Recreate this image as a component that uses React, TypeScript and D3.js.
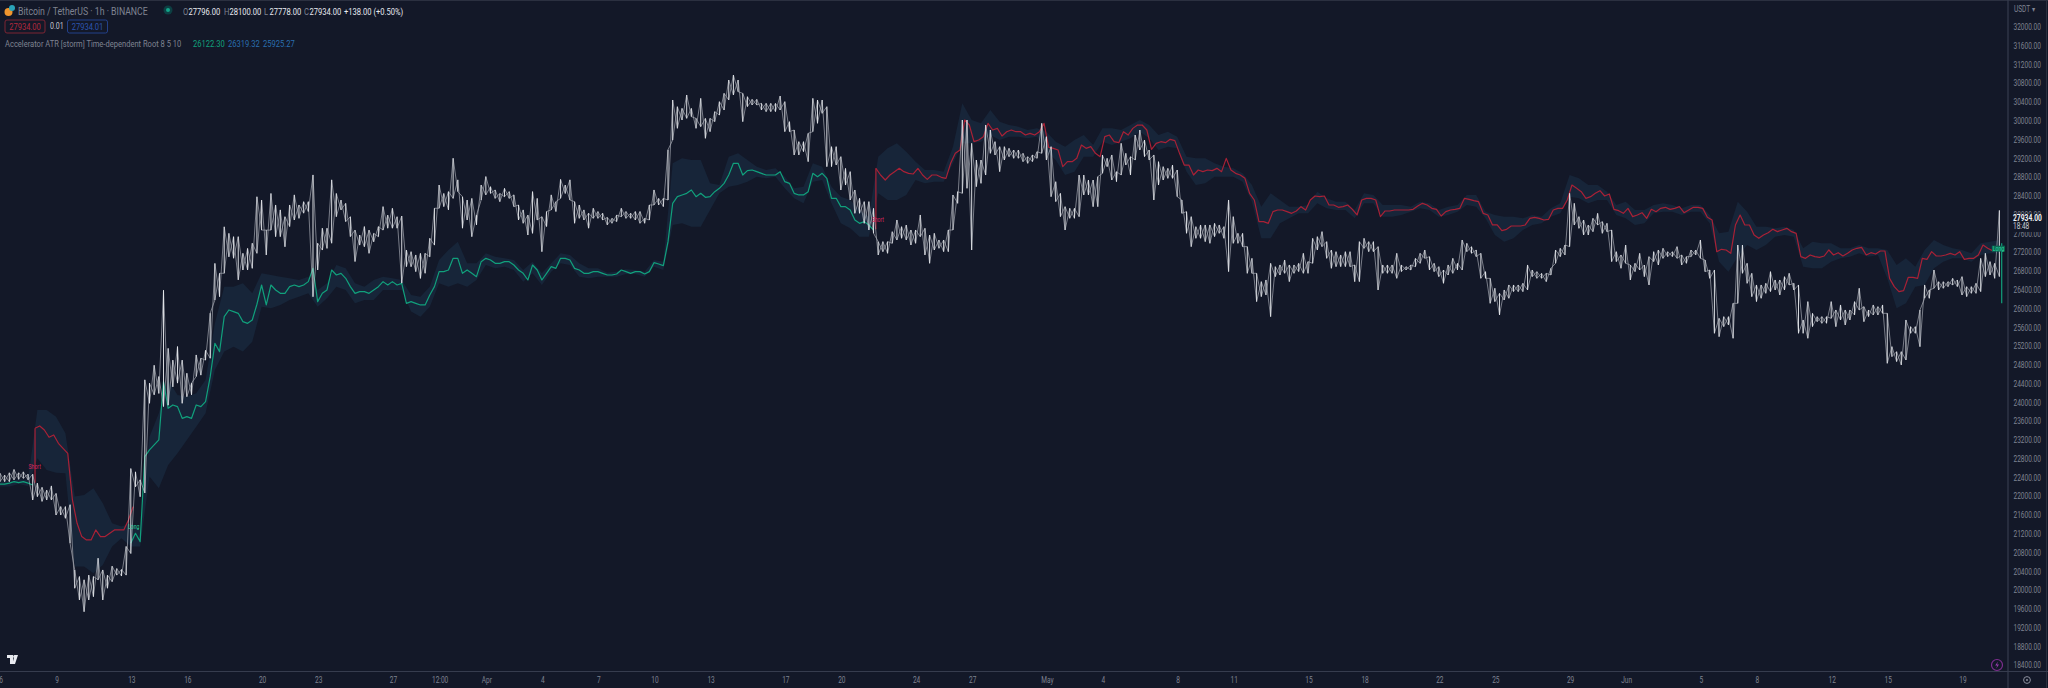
import React from 'react';
import * as d3 from 'd3';

const WIDTH = 2048;
const HEIGHT = 688;
const PLOT_RIGHT = 2008;
const AXIS_Y = 671.5;
const SQUEEZE = 0.78;

const BG = '#131828';
const BAND = '#172539';
const LONG = '#11a07c';
const SHORT = '#a92136';
const LABEL = '#7f8391';

// 6h bars, first one at 6 Mar 00:00
const START = Date.UTC(2023, 2, 6);
const HOUR = 3600 * 1000;

const highs = [
  22500,22460,22510,22580,22510,22530,22480,22480,22290,22200,
  22140,22230,22070,21790,21790,21830,20440,20300,20230,20330,
  20300,20690,20440,20330,20520,20470,20450,20940,22600,22530,
  22360,24490,24420,24800,24560,26400,25160,24910,25200,24910,
  24630,24420,25020,24950,25120,25910,26970,26760,27750,27610,
  27540,27540,27185,27290,27400,28390,28320,27680,28460,28215,
  28110,27965,28215,28430,28215,28285,28285,28855,27400,27720,
  27720,28750,28460,28320,28250,27965,27680,27575,27755,27680,
  27610,27755,28180,28000,28145,27965,27980,27255,27220,27150,
  27185,27185,27505,28145,28640,28460,28500,29210,28750,28390,
  28320,28355,28000,28640,28820,28605,28535,28460,28570,28500,
  28430,28215,28110,28000,28500,28355,27965,28075,28430,28285,
  28760,28640,28750,28285,28215,28110,28040,28145,28075,28040,
  27950,27930,28000,28145,28075,28040,28075,28075,27930,28215,
  28535,28355,28355,29390,30451,30309,30273,30558,30273,30060,
  30486,30060,30060,30203,30416,30593,30877,30983,30877,30593,
  30522,30465,30465,30380,30380,30380,30380,30536,30416,29990,
  29812,29564,29564,29741,30486,30451,30451,30309,29457,29457,
  29244,28995,28925,28534,28357,28286,28286,28144,27434,27434,
  27434,27646,27895,27753,27788,27682,27682,28002,27718,27575,
  27611,27469,27469,27682,28428,28499,30025,30025,29528,29173,
  29173,29919,29812,29564,29457,29457,29422,29386,29386,29315,
  29244,29280,29350,29954,29670,29457,28711,28463,28179,28144,
  28144,28853,28853,28747,28747,28818,29280,29209,29280,28925,
  29528,29315,29244,29705,29812,29599,29386,29280,29138,29031,
  28995,29066,28960,28321,28073,27966,27753,27789,27789,27789,
  27824,27789,27753,28321,27966,27611,27611,27327,27078,26759,
  26582,26617,26972,26901,26937,27043,26937,26937,26972,27185,
  27008,27504,27540,27647,27434,27256,27220,27150,27220,27220,
  26937,27434,27504,27434,27434,27327,26937,26937,26937,27185,
  26937,26901,26937,27078,27185,27256,27114,26972,26901,26830,
  26937,27078,26972,27469,27398,27327,27256,27185,26795,26652,
  26440,26333,26404,26511,26511,26511,26546,26937,26830,26795,
  26759,26759,26866,27256,27292,27362,28463,28250,27966,27895,
  27788,27930,28037,27860,27824,27682,27220,27150,27362,26936,
  26972,27185,26936,27114,27220,27256,27292,27220,27220,27327,
  27150,27114,27256,27256,27469,27043,26830,26830,25800,25836,
  25836,26120,27362,27362,26972,26759,26511,26511,26546,26795,
  26617,26617,26688,26759,26546,26511,25765,26156,25907,25836,
  25836,25836,26156,25978,26085,25978,25978,26156,26440,26049,
  25978,26085,26049,26085,25907,25197,25090,25090,25765,25623,
  25623,25978,26511,26404,26830,26581,26581,26581,26652,26617,
  26688,26475,26475,26546,27078,27185,27008,26972,28100,
];

const lows = [
  22320,22320,22320,22360,22370,22390,22360,21930,22000,21900,
  21930,21930,21610,21610,21540,21010,20050,19800,19550,19800,
  19870,20230,19800,20050,20190,20330,20310,20330,20790,22210,
  22000,22080,23990,24170,24200,23920,23950,24340,24420,23990,
  24130,24170,24560,24590,24910,24950,26190,26260,26760,27110,
  27080,26620,26830,26830,26865,27185,27680,27150,27680,27540,
  27540,27325,27755,27895,27930,28040,28075,26260,26830,27255,
  27290,27400,27965,28110,27860,27540,27010,27360,27325,27185,
  27430,27540,27680,27720,27720,27720,26550,26900,26900,26795,
  26650,26760,27110,27360,28145,28180,28110,28355,28500,27720,
  27895,27540,27790,28320,28430,28460,28355,28285,28390,28355,
  28180,27895,27825,27575,27610,27895,27220,27755,28110,28075,
  28355,28460,28320,27825,27930,27895,27720,27930,27930,27895,
  27790,27825,27860,27965,27930,27930,27895,27825,27825,27895,
  28215,28215,28180,28320,29599,29848,30025,30060,30096,29848,
  29883,29635,29777,29990,30131,30238,30451,30558,30628,29990,
  30309,30345,30345,30238,30203,30203,30203,30238,29777,29777,
  29280,29280,29350,29138,29777,29954,30167,29031,29031,29067,
  28534,28640,28321,28037,28037,27824,27682,27611,27150,27220,
  27185,27398,27469,27505,27469,27362,27398,27540,27150,26972,
  27256,27292,27220,27220,27682,28250,28463,28570,27256,28605,
  28676,28853,29315,29280,28925,29173,29244,29209,29209,29138,
  29102,29138,29209,29315,29173,28392,28286,27966,27682,27931,
  27931,27966,28428,28428,28179,28179,28889,29031,28747,28711,
  28853,29067,28853,29173,29386,29244,29173,28321,28640,28747,
  28782,28782,28392,28037,27611,27327,27505,27505,27434,27398,
  27540,27611,27505,26795,27398,27398,27327,26759,26759,26156,
  26262,26298,25836,26688,26723,26759,26582,26759,26795,26759,
  26759,26972,27256,27327,27078,26865,26901,26901,26901,26901,
  26582,26582,27291,27220,27220,26404,26759,26759,26759,26652,
  26795,26830,26830,26901,26972,27078,26830,26795,26688,26546,
  26723,26759,26830,26830,27220,27185,27114,26652,26652,26120,
  26156,25872,26191,26227,26369,26369,26369,26404,26688,26652,
  26652,26582,26724,26972,27114,27150,27327,27788,27717,27575,
  27575,27646,27788,27611,27646,27008,27008,26866,26972,26617,
  26795,26830,26688,26511,27008,26936,27078,27114,27114,27078,
  26936,26972,27114,27150,27078,26795,26652,25481,25410,25623,
  25659,25375,26120,26759,26546,26262,26156,26227,26333,26369,
  26404,26298,26404,26511,26404,25481,25481,25375,25623,25729,
  25694,25694,25800,25623,25765,25659,25765,25872,25978,25729,
  25836,25872,25872,25907,24842,24984,24878,24807,24913,25481,
  25481,25197,26227,26227,26440,26404,26440,26475,26511,26475,
  26298,26262,26333,26333,26369,26688,26724,26652,26688,
];

// indicator line, one array per run of the trend, same 6h step
const longStartA = 0;
const longA = [22270,22270,22290,22320,22300,22320,22290,22250];

const shortStartA = 7.5;
const shortA = [
  23457,23507,23422,23266,23315,23138,23031,22925,21931,21434,21150,21079,
  21079,21292,21150,21150,21221,21292,21292,21292,21505,21789,
];

const longStartB = 28;
const longB = [
  21008,21221,21043,22854,22996,23103,23209,24452,23884,23955,23919,23670,
  23706,23670,23955,23919,24026,24558,25268,25091,25836,25978,25943,25907,
  25730,25694,25765,26100,26510,26085,26510,26404,26333,26333,26475,26510,
  26475,26510,26582,26866,26156,26333,26404,26830,26723,26759,26653,26475,
  26333,26369,26369,26333,26404,26475,26582,26510,26582,26510,26546,26120,
  26156,26120,26085,26085,26297,26475,26795,26795,26830,27078,27078,26759,
  26830,26759,26688,27007,27078,27043,26972,26972,27007,27007,26936,26830,
  26759,26617,26936,26830,26617,26759,26901,26865,27078,27078,27043,26865,
  26830,26759,26759,26795,26795,26759,26723,26723,26745,26830,26795,26759,
  26795,26795,26745,26795,26986,26958,26922,27433,28250,28392,28428,28463,
  28534,28392,28463,28378,28392,28499,28570,28676,28853,29102,29102,28853,
  28946,28960,28925,28889,28853,28853,28853,28925,28711,28676,28463,28428,
  28428,28499,28889,28818,28889,28782,28357,28357,28179,28179,28108,27895,
  27824,27860,27788,27682,
];

const shortStartB = 187.5;
const shortB = [
  28995,28853,28747,28853,28925,28995,28925,28889,28875,28995,28853,28761,
  28853,28853,28804,28782,29102,29315,29386,30025,29919,29564,29599,29670,
  29954,29812,29847,29684,29776,29812,29776,29776,29705,29741,29705,29776,
  29954,29443,29422,29386,29031,29138,29138,29209,29492,29422,29457,29315,
  29244,29670,29705,29564,29542,29776,29705,29847,29918,29918,29812,
  29400,29528,29563,29542,29613,29585,29315,29066,29066,28853,28960,28925,
  28960,28946,28995,28925,29208,28960,28889,28853,28782,28463,28321,27860,
  27860,27824,28073,28108,28108,28073,28037,28087,28179,28108,28321,28406,
  28392,28406,28214,28214,28165,28179,28214,28122,28002,28321,28356,28356,
  28321,27966,28087,28087,28108,28108,28108,28108,28122,28193,28250,28214,
  28143,28122,27980,28073,28108,28122,28143,28356,28335,28307,28285,28037,
  28002,27789,27789,27668,27696,27767,27767,27767,27789,27930,27952,27930,
  27895,27909,28108,28143,28143,
  28321,28640,28570,28498,28356,28392,28463,28520,28406,28449,28122,28094,
  28037,28143,27966,28001,28051,27930,28122,28072,28143,28165,28122,28143,
  28179,28051,28108,28165,28165,28143,27952,27895,27220,27270,27256,27185,
  27788,28001,27788,27788,27575,27504,27575,27625,27696,27647,27682,27717,
  27647,27611,27114,27078,27150,27114,27100,27128,27256,27150,27199,27128,
  27185,27256,27292,27312,27150,27199,27170,27235,27235,26652,26475,26369,
  26390,26674,26674,26652,27078,27057,27220,27128,27128,27150,27185,27150,
  27220,27057,27078,27078,27150,27362,27292,27242,
];

// the jumps where the trend flips
const flips = [
  { at: 7.5, from: 22300, to: 23457, side: 'short' },
  { at: 187.5, from: 27700, to: 28995, side: 'short' },
  { at: 428.5, from: 27400, to: 26122, side: 'long' },
];

const flipLabels = [
  { at: 6.1, price: 22640, text: 'Short', side: 'short', box: false },
  { at: 27.4, price: 21363, text: 'Long', side: 'long', box: false },
  { at: 186.6, price: 27895, text: 'Short', side: 'short', box: false },
  { at: 426.6, price: 27284, text: 'Long', side: 'long', box: true },
];

// band around the line, 12h step
const bandTop = [
  22322,22322,22371,22357,23848,23848,23706,23351,22002,22037,22180,21860,21434,21363,21434,21292,
  23280,23777,24487,24168,24132,24203,24487,25694,26475,26475,26546,26333,26759,26724,26688,26653,
  26617,26688,26404,26546,26936,26865,26546,26475,26617,26688,26653,26617,26298,26262,26475,27043,
  27256,27434,26972,26972,27185,27114,27079,27043,26830,27008,26759,26972,27185,27150,26972,26865,
  26865,26773,26795,26844,26830,26795,27043,27008,29102,29209,29173,29173,28676,28640,29244,29315,
  29173,29031,28960,28996,28818,28570,28605,29102,29031,28605,28392,28321,28108,27966,29244,29422,
  29528,29350,29138,28960,28960,28925,29457,30380,30025,29954,30238,29990,29919,29883,29812,29848,
  29777,29564,29457,29599,29705,29493,29848,29848,29812,29919,30025,29919,29705,29777,29670,29244,
  29209,29209,29102,29031,28995,28889,28640,28179,28463,28321,28179,28179,28214,28498,28357,28286,
  28286,28108,28463,28428,28214,28214,28214,28179,28286,28250,28108,28179,28214,28428,28428,28073,
  28002,27966,27966,27931,28002,27966,28143,28250,28854,28783,28641,28641,28499,28215,28286,28108,
  28108,28215,28250,28215,28144,28215,28215,28002,27611,27647,28286,28073,27753,27753,27718,27753,
  27682,27292,27434,27398,27398,27292,27292,27362,27292,27292,27256,26936,27079,26901,27256,27469,
  27362,27292,27256,27185,27398,27434,27469,
];

const bandBottom = [
  22215,22215,22272,22229,22818,22570,22513,22499,20511,20511,20369,20546,20937,21114,20937,20937,
  22428,22180,22677,22925,23209,23493,23777,24700,25091,25197,25091,25303,26049,26014,26085,26191,
  26262,26333,26049,26227,26475,26404,26120,26191,26191,26404,26404,26404,25943,25836,26049,26546,
  26475,26546,26475,26617,26936,26865,26901,26830,26582,26759,26510,26795,26972,26936,26688,26653,
  26688,26688,26688,26745,26745,26688,26901,26830,27788,27824,27753,27753,28108,28463,28605,28640,
  28712,28818,28783,28818,28570,28357,28250,28712,28747,28250,27824,27718,27540,27540,28463,28321,
  28321,28428,28747,28676,28712,28712,29102,29528,29528,29564,29705,29599,29670,29670,29635,29670,
  29351,29173,28854,28925,29244,29244,29564,29493,29564,29635,29777,29635,29386,29457,29422,28925,
  28640,28676,28818,28818,28818,28712,28286,27505,27505,27824,27931,28037,28037,28250,28143,28108,
  28108,27931,28250,28250,27966,27966,28002,28073,28143,28108,27966,28002,28073,28214,28179,27931,
  27576,27434,27505,27682,27789,27824,27966,28037,28392,28357,28250,28321,28321,28002,27931,27789,
  27824,28037,28073,28073,28002,28073,28073,27824,27008,26795,27114,27362,27256,27362,27540,27576,
  27540,26901,26866,26866,27008,27079,27114,27185,27114,27150,26652,26014,26120,26475,26511,26866,
  27008,27079,27079,27008,27150,27185,27185,
];

const priceTicks = d3.range(18400, 32001, 400);

const dateTicks: [string, string][] = [
  ['2023-03-06', '6'], ['2023-03-09', '9'], ['2023-03-13', '13'], ['2023-03-16', '16'],
  ['2023-03-20', '20'], ['2023-03-23', '23'], ['2023-03-27', '27'], ['2023-03-29T12:00Z', '12:00'],
  ['2023-04-01', 'Apr'], ['2023-04-04', '4'], ['2023-04-07', '7'], ['2023-04-10', '10'],
  ['2023-04-13', '13'], ['2023-04-17', '17'], ['2023-04-20', '20'], ['2023-04-24', '24'],
  ['2023-04-27', '27'], ['2023-05-01', 'May'], ['2023-05-04', '4'], ['2023-05-08', '8'],
  ['2023-05-11', '11'], ['2023-05-15', '15'], ['2023-05-18', '18'], ['2023-05-22', '22'],
  ['2023-05-25', '25'], ['2023-05-29', '29'], ['2023-06-01', 'Jun'], ['2023-06-05', '5'],
  ['2023-06-08', '8'], ['2023-06-12', '12'], ['2023-06-15', '15'], ['2023-06-19', '19'],
];

const ohlc = [
  ['O', '27796.00', 183], ['H', '28100.00', 224], ['L', '27778.00', 264], ['C', '27934.00', 304],
] as const;

const x = d3.scaleUtc().domain([new Date(START), new Date('2023-06-19')]).range([0, 1962]);
const y = d3.scaleLinear().domain([32000, 18400]).range([27.3, 665.7]);

const xAt = (i: number) => x(new Date(START + i * 6 * HOUR));

// squeezed text, the whole screenshot is a bit narrower than it is tall
function T({ x: tx, y: ty, fill = LABEL, size = 8.4, weight = 400, anchor = 'start', children }: any) {
  return (
    <text
      transform={`translate(${tx},${ty}) scale(${SQUEEZE},1)`}
      fill={fill}
      fontSize={size}
      fontWeight={weight}
      textAnchor={anchor}
      dominantBaseline="central"
    >
      {children}
    </text>
  );
}

function runPath(start: number, values: number[]) {
  const line = d3.line<number>().x((_, k) => xAt(start + k)).y(d => y(d));
  return line(values) ?? '';
}

export default function App() {
  const bandArea = d3
    .area<number>()
    .x((_, j) => xAt(j * 2))
    .y0((_, j) => y(bandBottom[j]))
    .y1(d => y(d));

  // high/low zigzag gives the hairy look of the hourly bars
  const zigzag = d3
    .line<number>()
    .x((_, i) => xAt(i))
    .y((d, i) => y(i % 2 ? d : lows[i]));

  const zagzig = d3
    .line<number>()
    .x((_, i) => xAt(i))
    .y((d, i) => y(i % 2 ? lows[i] : d));

  const color = (side: string) => (side === 'long' ? LONG : SHORT);

  return (
    <svg
      width={WIDTH}
      height={HEIGHT}
      style={{ position: 'fixed', left: 0, top: 0, background: BG, fontFamily: 'Roboto, sans-serif' }}
    >
      <path d={bandArea(bandTop) ?? ''} fill={BAND} />

      <g fill="none" strokeWidth={1.2} strokeLinejoin="round">
        <path d={runPath(longStartA, longA)} stroke={LONG} />
        <path d={runPath(shortStartA, shortA)} stroke={SHORT} />
        <path d={runPath(longStartB, longB)} stroke={LONG} />
        <path d={runPath(shortStartB, shortB)} stroke={SHORT} />
        {flips.map(f => (
          <line
            key={f.at}
            x1={xAt(f.at)}
            x2={xAt(f.at)}
            y1={y(f.from)}
            y2={y(f.to)}
            stroke={color(f.side)}
          />
        ))}
      </g>

      <g fill="none" stroke="#d6d8e0" strokeWidth={0.7} opacity={0.75}>
        <path d={zigzag(highs) ?? ''} />
        <path d={zagzig(highs) ?? ''} />
      </g>
      <g stroke="#eceef2" strokeWidth={0.9}>
        {highs.map((h, i) => (
          <line key={i} x1={xAt(i)} x2={xAt(i)} y1={y(h)} y2={y(lows[i])} />
        ))}
      </g>

      {flipLabels.map(l => (
        <g key={l.at}>
          {l.box && <rect x={xAt(l.at) - 1} y={y(l.price) - 3} width={13} height={6} fill="#0d6a55" />}
          <T x={xAt(l.at)} y={y(l.price)} size={6.6} fill={l.side === 'long' ? '#2bd9a0' : '#d8265d'}>
            {l.text}
          </T>
        </g>
      ))}

      {/* header */}
      <circle cx={8.5} cy={12} r={4} fill="#f0962e" />
      <circle cx={12} cy={8} r={3} fill="#2aa3b8" />
      <T x={18} y={11} size={11.2}>Bitcoin / TetherUS · 1h · BINANCE</T>
      <circle cx={168} cy={10} r={4.5} fill="#0d3f43" />
      <circle cx={168} cy={10} r={2} fill="#12a58a" />
      {ohlc.map(([k, v, px]) => (
        <g key={k}>
          <T x={px} y={11.3} size={9.7}>{k}</T>
          <T x={px + 5.5} y={11.3} size={9.7} fill="#e8eaf0">{v}</T>
        </g>
      ))}
      <T x={344} y={11.3} size={9.7} fill="#e8eaf0">+138.00 (+0.50%)</T>

      <rect x={5} y={20} width={40} height={13} rx={2} fill="none" stroke="#7c2433" />
      <T x={25} y={26.8} anchor="middle" size={9.7} fill="#b3283d">27934.00</T>
      <T x={50} y={26.5} size={9} fill="#c4c7d0">0.01</T>
      <rect x={67.5} y={20} width={40} height={13} rx={2} fill="none" stroke="#23408a" />
      <T x={87.5} y={26.8} anchor="middle" size={9.7} fill="#2c55b0">27934.01</T>

      <T x={5} y={43.3} size={9.7}>Accelerator ATR [storm]  Time-dependent Root 8 5 10</T>
      <T x={193} y={43.3} size={9.7} fill={LONG}>26122.30</T>
      <T x={228} y={43.3} size={9.7} fill="#2a6fb0">26319.32</T>
      <T x={263} y={43.3} size={9.7} fill="#2a6fb0">25925.27</T>

      {/* logo */}
      <path d="M7 655h6v9h-3v-6H7zM14.5 655h3.5l-3 9h-2.6z" fill="#e8eaf0" />
      <circle cx={14.6} cy={656.6} r={1.5} fill="#e8eaf0" />

      {/* lightning */}
      <circle cx={1997} cy={665} r={5.5} fill="none" stroke="#7d2e8e" strokeWidth={1.2} />
      <path d="M1998 661.5l-2.8 4h2l-1 3 2.8-4h-2z" fill="#9c3bb0" />

      {/* axes */}
      <rect x={PLOT_RIGHT + 0.5} y={0} width={WIDTH} height={HEIGHT} fill={BG} />
      <line x1={0} x2={WIDTH} y1={0.5} y2={0.5} stroke="#2b3040" />
      <line x1={PLOT_RIGHT} x2={PLOT_RIGHT} y1={0} y2={HEIGHT} stroke="#363c4e" strokeWidth={1.2} />
      <line x1={2046.5} x2={2046.5} y1={0} y2={HEIGHT} stroke="#2b3040" />
      <line x1={0} x2={WIDTH} y1={AXIS_Y} y2={AXIS_Y} stroke="#363c4e" strokeWidth={1.2} />

      <T x={2014} y={9}>USDT ▾</T>
      {priceTicks.map(p => (
        <T key={p} x={2013.5} y={y(p)}>{d3.format('.2f')(p)}</T>
      ))}
      {dateTicks.map(([d, label], i) => (
        <T key={i} x={x(new Date(d)) + 1} y={680} anchor="middle">{label}</T>
      ))}

      <rect x={2009} y={214} width={37} height={18} fill={BG} />
      <T x={2013} y={218} size={8.6} weight={700} fill="#f0f1f5">27934.00</T>
      <T x={2013} y={226.5} size={8.4} fill="#c9ccd6">18:48</T>

      <circle cx={2027} cy={680} r={3.4} fill="none" stroke="#8a8e9c" strokeWidth={1} />
      <circle cx={2027} cy={680} r={1} fill="#8a8e9c" />
    </svg>
  );
}
